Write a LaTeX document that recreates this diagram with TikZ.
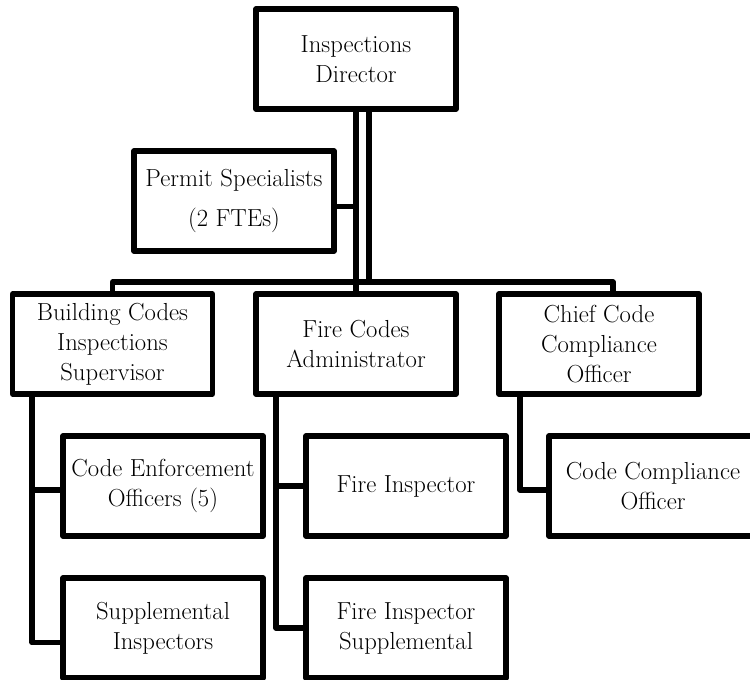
\documentclass[tikz,border=0pt]{standalone}
\usepackage{tikz}
\usetikzlibrary{positioning, calc}
\definecolor{orgline}{RGB}{0, 0, 0}

\tikzset{
    orgbox/.style={draw=orgline, line width=3.9pt, line join=round, rectangle,
        minimum width=150pt, minimum height=75pt, align=center, inner sep=1pt,
        font=\fontsize{18.5}{22.5}\selectfont},
    orglink/.style={draw=orgline, line width=3.9pt, line join=round}
}

\begin{document}
\begin{tikzpicture}[x=0.75pt, y=-0.75pt]
        \useasboundingbox (0,0) rectangle (750,680);

        % Director and staff
        \node[orgbox] (dir) at (356,59) {Inspections\\Director};
        \node[orgbox] (permit) at (234,201) {Permit Specialists\\[8pt](2 FTEs)};

        % Second level
        \node[orgbox] (bldg) at (112.5,344) {Building Codes\\Inspections\\Supervisor};
        \node[orgbox] (fire) at (356,344) {Fire Codes\\Administrator};
        \node[orgbox] (chief) at (599,344) {Chief Code\\Compliance\\Officer};

        % Third level
        \node[orgbox] (enf) at (163,486) {Code Enforcement\\Officers (5)};
        \node[orgbox] (supp) at (163,628) {Supplemental\\Inspectors};
        \node[orgbox] (finsp) at (406,486) {Fire Inspector};
        \node[orgbox] (fsupp) at (406,628) {Fire Inspector\\Supplemental};
        \node[orgbox, minimum width=156pt] (ccomp) at (653,486) {Code Compliance\\Officer};

        % Spine and bus positions
        \coordinate (dx) at (369,0);
        \coordinate (busR) at (613,282);
        \coordinate (busL) at (bldg.north |- busR);
        \coordinate (bx) at (32,0);
        \coordinate (fx) at (276,0);
        \coordinate (cx) at (520,0);

        % Director links
        \draw[orglink] (dir.south) -- (fire.north);
        \draw[orglink] (dir.south -| dx) -- (busR -| dx);
        \draw[orglink] ([yshift=-4pt]permit.east) -- ([yshift=-4pt]permit.east -| dir.south);
        \draw[orglink] (bldg.north) -- (busL) -- (busR) -- (busR |- chief.north);

        % Staff links
        \draw[orglink] (bldg.south -| bx) |- ([yshift=-3pt]enf.west);
        \draw[orglink] (bldg.south -| bx) |- ([yshift=-11pt]supp.west);
        \draw[orglink] (fire.south -| fx) |- (finsp.west);
        \draw[orglink] (fire.south -| fx) |- (fsupp.west);
        \draw[orglink] (chief.south -| cx) |- ([yshift=-3pt]ccomp.west);
    \end{tikzpicture}
\end{document}
